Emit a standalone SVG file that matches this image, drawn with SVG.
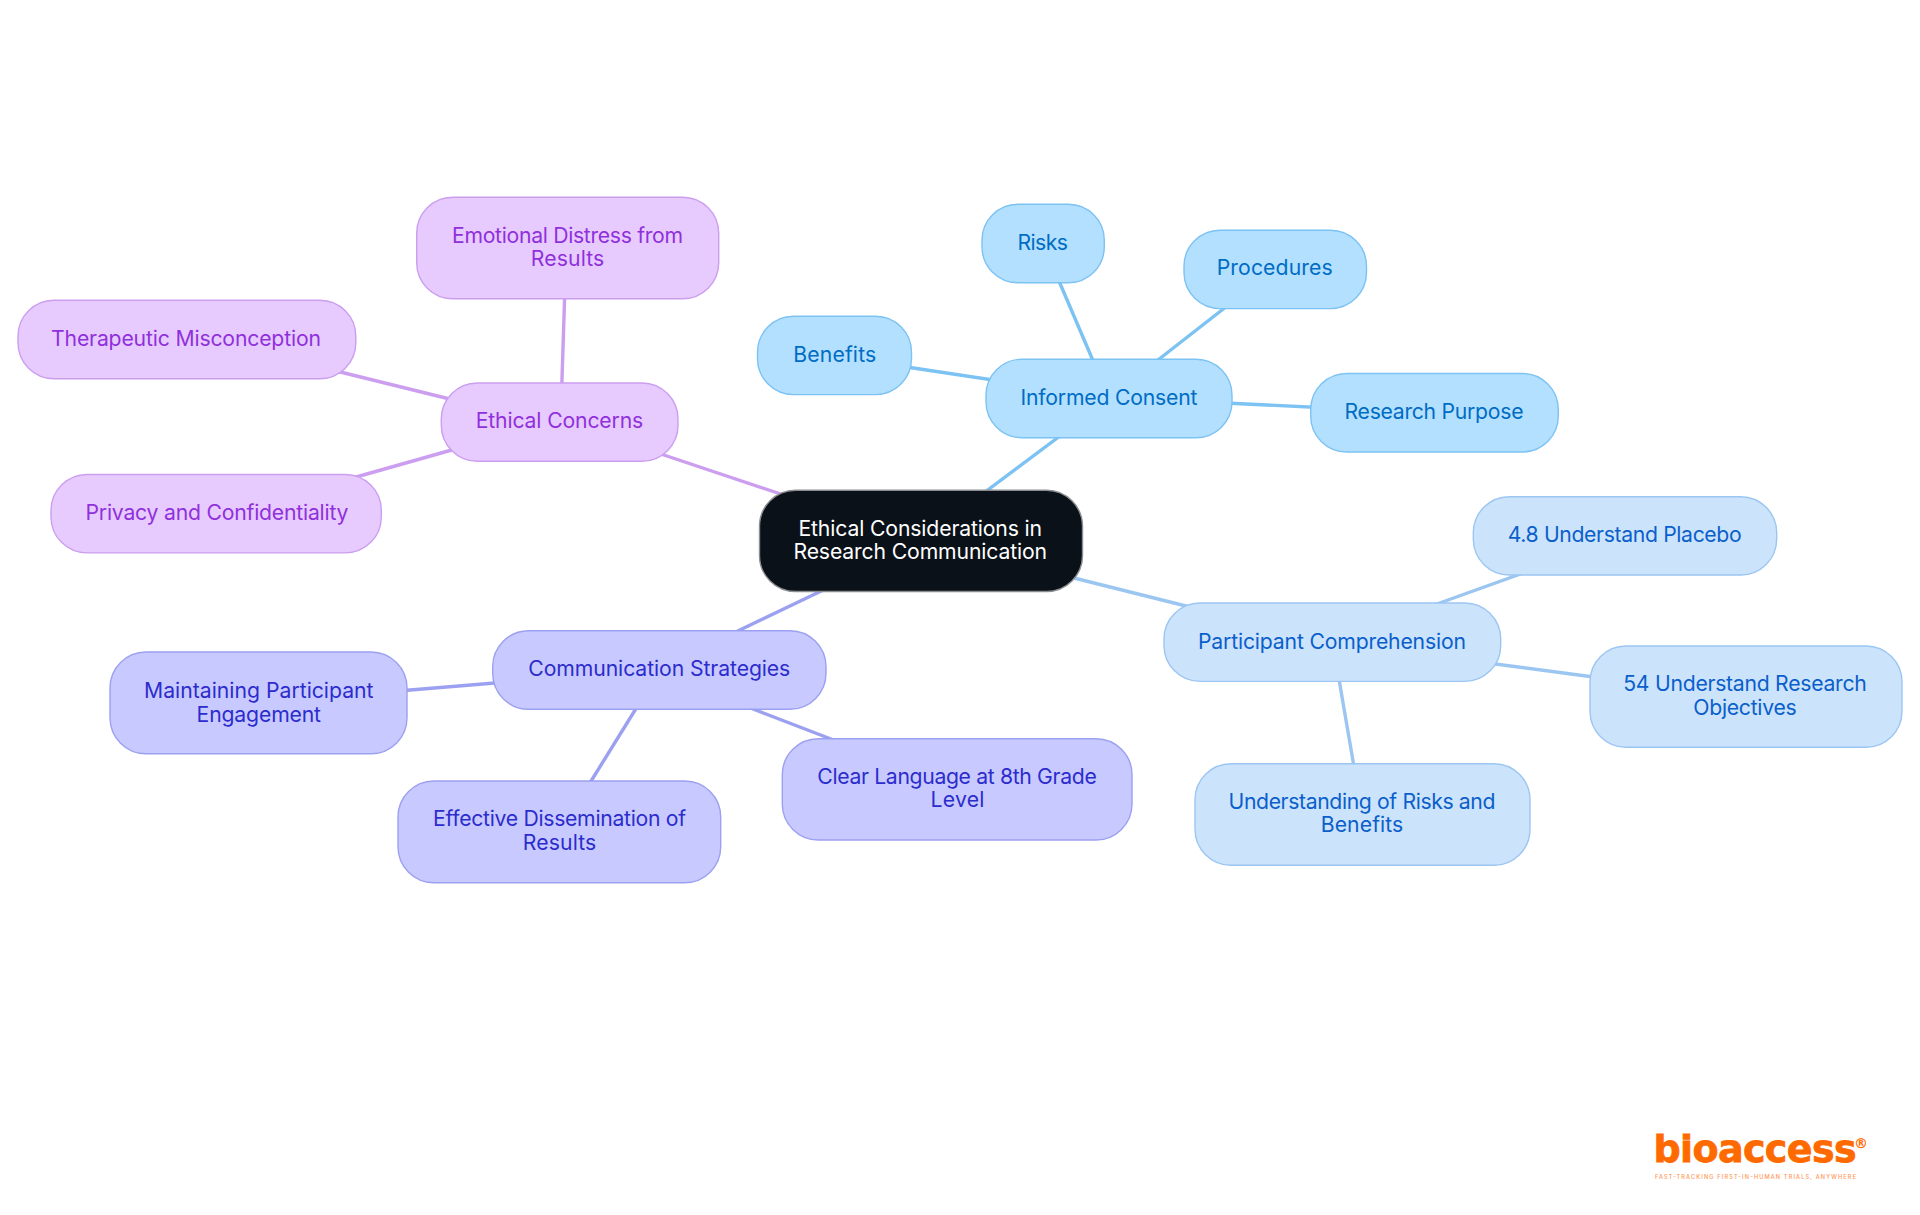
<svg xmlns="http://www.w3.org/2000/svg" width="1920" height="1215" viewBox="0 0 1920 1215">
<style>
text{font-family:"Inter","Noto Sans","Liberation Sans",sans-serif;font-size:21.2px;text-anchor:middle;font-weight:380}
rect{stroke-width:1.4}
.e{fill:none;stroke-width:3.4;stroke-linecap:butt}
.root rect{fill:#0b1119;stroke:#8a8d91}.root text{fill:#fff}
.sky rect{fill:#b3e0ff;stroke:#7cc2f3}.sky text{fill:#006cc4}
.blu rect{fill:#cce3fc;stroke:#9cc6f2}.blu text{fill:#0a5fcb}
.ind rect{fill:#c8caff;stroke:#9ca0f0}.ind text{fill:#2c2ccd}
.pur rect{fill:#e7cbff;stroke:#cb9ef0}.pur text{fill:#9030dc}
.sky-e{stroke:#7cc2f3}.blu-e{stroke:#9cc6f2}.ind-e{stroke:#9ca0f0}.pur-e{stroke:#cb9ef0}
.logo{font-family:"DejaVu Sans",sans-serif;font-weight:700;fill:#ff6a00}
</style>
<rect width="1920" height="1215" fill="#fff" style="stroke:none"/>
<g id="connectors">
<line class="e sky-e" x1="965" y1="507" x2="1080" y2="421"/>
<line class="e sky-e" x1="880" y1="363" x2="1020" y2="384"/>
<line class="e sky-e" x1="1050" y1="260" x2="1100" y2="377"/>
<line class="e sky-e" x1="1245" y1="292" x2="1140" y2="374"/>
<line class="e sky-e" x1="1215" y1="402.5" x2="1340" y2="408.5"/>
<line class="e blu-e" x1="1050" y1="572" x2="1210" y2="612"/>
<line class="e blu-e" x1="1423" y1="609" x2="1540" y2="567"/>
<line class="e blu-e" x1="1480" y1="662" x2="1620" y2="680.5"/>
<line class="e blu-e" x1="1335" y1="656" x2="1358" y2="790"/>
<line class="e ind-e" x1="840" y1="582" x2="715" y2="642"/>
<line class="e ind-e" x1="380" y1="692.5" x2="520" y2="681"/>
<line class="e ind-e" x1="650" y1="686" x2="575" y2="807"/>
<line class="e ind-e" x1="727" y1="699" x2="857" y2="749"/>
<line class="e pur-e" x1="640" y1="447" x2="800" y2="500.5"/>
<line class="e pur-e" x1="565.5" y1="270" x2="561" y2="410"/>
<line class="e pur-e" x1="320" y1="367" x2="470" y2="404"/>
<line class="e pur-e" x1="335" y1="483" x2="480" y2="442"/>
</g>
<g id="root" class="root"><rect x="759.5" y="490.3" width="323" height="101.2" rx="36"/><text x="920.3" y="536" textLength="243.7">Ethical Considerations in</text><text x="920.3" y="559" textLength="253.7">Research Communication</text></g>
<g id="informed-consent" class="sky"><rect x="986" y="359.2" width="246" height="78.5" rx="36"/><text x="1109" y="405" textLength="177">Informed Consent</text></g>
<g id="risks" class="sky"><rect x="982" y="204.3" width="122.3" height="78.5" rx="36"/><text x="1042.7" y="250" textLength="50.5">Risks</text></g>
<g id="benefits" class="sky"><rect x="757.5" y="316.3" width="154" height="78.3" rx="36"/><text x="834.7" y="362" textLength="83">Benefits</text></g>
<g id="procedures" class="sky"><rect x="1184" y="230.3" width="182.5" height="78.3" rx="36"/><text x="1274.7" y="275" textLength="116">Procedures</text></g>
<g id="research-purpose" class="sky"><rect x="1310.7" y="373.5" width="247.6" height="78.5" rx="36"/><text x="1434" y="418.7" textLength="179">Research Purpose</text></g>
<g id="participant-comprehension" class="blu"><rect x="1164" y="603" width="336.7" height="78.4" rx="36"/><text x="1332" y="648.7" textLength="268">Participant Comprehension</text></g>
<g id="understand-placebo" class="blu"><rect x="1473.3" y="496.7" width="303.4" height="78.3" rx="36"/><text x="1624.7" y="541.7" textLength="234">4.8 Understand Placebo</text></g>
<g id="understand-objectives" class="blu"><rect x="1590" y="646" width="312" height="101.3" rx="36"/><text x="1745" y="690.7" textLength="243.5">54 Understand Research</text><text x="1745" y="715" textLength="103.5">Objectives</text></g>
<g id="understanding-risks" class="blu"><rect x="1195" y="763.7" width="335" height="101.6" rx="36"/><text x="1362" y="808.7" textLength="267">Understanding of Risks and</text><text x="1362" y="832" textLength="82.5">Benefits</text></g>
<g id="communication-strategies" class="ind"><rect x="492.7" y="630.7" width="333.3" height="78.6" rx="36"/><text x="659.3" y="676" textLength="262">Communication Strategies</text></g>
<g id="maintaining-engagement" class="ind"><rect x="110" y="652" width="297" height="101.7" rx="36"/><text x="258.8" y="698" textLength="229.5">Maintaining Participant</text><text x="258.8" y="722" textLength="124.5">Engagement</text></g>
<g id="effective-dissemination" class="ind"><rect x="398" y="781" width="322.7" height="101.7" rx="36"/><text x="559.6" y="826" textLength="253">Effective Dissemination of</text><text x="559.5" y="850" textLength="73.5">Results</text></g>
<g id="clear-language" class="ind"><rect x="782.3" y="738.7" width="349.7" height="101.3" rx="36"/><text x="957" y="784" textLength="279.5">Clear Language at 8th Grade</text><text x="957.5" y="807" textLength="54">Level</text></g>
<g id="ethical-concerns" class="pur"><rect x="441.3" y="383" width="236.7" height="78.3" rx="36"/><text x="559.5" y="427.7" textLength="167.5">Ethical Concerns</text></g>
<g id="emotional-distress" class="pur"><rect x="416.7" y="197.3" width="302" height="101.4" rx="36"/><text x="567.5" y="242.7" textLength="231">Emotional Distress from</text><text x="567.5" y="266" textLength="73.5">Results</text></g>
<g id="therapeutic-misconception" class="pur"><rect x="18" y="300.3" width="337.8" height="78.4" rx="36"/><text x="186" y="345.7" textLength="270">Therapeutic Misconception</text></g>
<g id="privacy-confidentiality" class="pur"><rect x="51" y="474.5" width="330.3" height="78.4" rx="36"/><text x="217" y="520" textLength="263">Privacy and Confidentiality</text></g>
<g id="logo">
<text class="logo" x="1755" y="1161.7" textLength="203" style="font-size:38px;stroke:#ff6a00;stroke-width:.8">bioaccess</text>
<text class="logo" x="1861" y="1148" style="font-size:14px">®</text>
<text x="1755.5" y="1178.7" textLength="201" style="font-size:5.6px;font-weight:500;fill:#ff6a00;opacity:.7">FAST-TRACKING FIRST-IN-HUMAN TRIALS, ANYWHERE</text>
</g>
</svg>
